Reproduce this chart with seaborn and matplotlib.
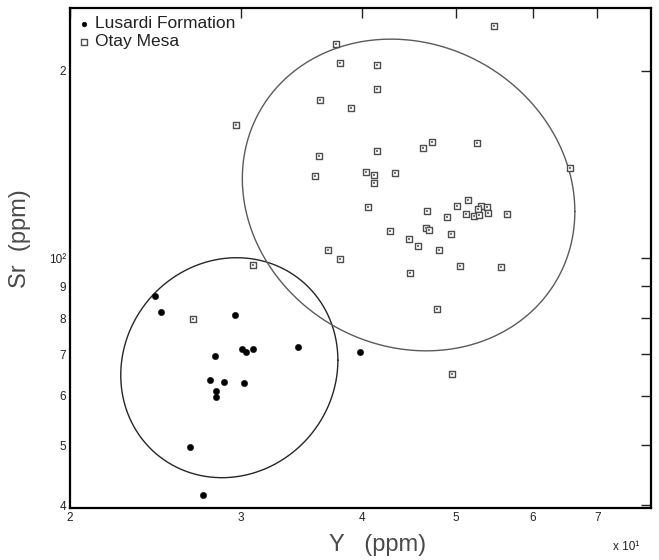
import numpy as np
import pandas as pd
import matplotlib
matplotlib.use("Agg")
import matplotlib.pyplot as plt
import seaborn as sns
from matplotlib.ticker import FixedLocator, FixedFormatter, NullLocator

# Lusardi Formation samples: yttrium vs strontium (ppm)
lusardi_y = [24.5, 24.8, 29.6, 30.1, 30.4, 30.9, 34.4, 28.2, 27.9, 28.8,
             30.2, 28.3, 28.3, 26.6, 27.4, 39.8]
lusardi_sr = [86.9, 82.0, 81.1, 71.5, 70.6, 71.5, 71.9, 69.5, 63.7, 63.2,
              63.0, 61.0, 59.8, 49.7, 41.5, 70.5]

# Otay Mesa samples: yttrium vs strontium (ppm)
otay_y = [54.7, 37.6, 38.0, 41.5, 41.5, 36.2, 39.0, 36.1, 35.8, 41.5,
          46.3, 47.3, 52.6, 65.6, 40.4, 41.2, 43.3, 41.2, 40.6, 46.7,
          50.2, 51.5, 53.1, 53.8, 52.7, 51.2, 52.2, 52.8, 54.0, 56.5,
          49.0, 42.8, 46.6, 46.9, 44.7, 45.7, 49.4, 48.0, 36.9, 38.0,
          50.5, 55.7, 44.9, 47.8, 49.6, 29.7, 30.9, 26.8]
otay_sr = [236.6, 220.9, 206.1, 204.6, 187.4, 179.7, 174.3, 145.7, 135.4, 148.8,
           150.1, 153.6, 153.0, 139.7, 137.5, 136.1, 136.8, 131.9, 120.8, 119.0,
           121.2, 124.0, 121.4, 120.9, 119.9, 117.5, 116.8, 117.2, 118.1, 117.8,
           116.3, 110.7, 111.9, 111.0, 107.4, 104.5, 109.2, 102.9, 103.0, 99.7,
           97.2, 96.8, 94.6, 82.8, 65.1, 163.4, 97.5, 79.7]

# Grouping ellipses: centre (ppm), half-axes in log10 units, log-log correlation
group_names = ["Lusardi Formation", "Otay Mesa"]
ellipse_center_y = [29.2, 44.7]
ellipse_center_sr = [66.6, 126.3]
ellipse_half_logy = [0.112, 0.1715]
ellipse_half_logsr = [0.177, 0.2508]
ellipse_rho = [0.068, -0.106]

# Axis ticks and their labels
x_ticks = [20, 30, 40, 50, 60, 70]
x_tick_labels = ["2", "3", "4", "5", "6", "7"]
y_ticks = [40, 50, 60, 70, 80, 90, 100, 200]
y_tick_labels = ["4", "5", "6", "7", "8", "9", "10\u00b2", "2"]

sns.set_style("white")
plt.rcParams["font.family"] = ["Liberation Sans", "DejaVu Sans"]

fig = plt.figure(figsize=(6.59, 5.6), dpi=100)
ax = fig.add_axes([70 / 659, 1 - 508 / 560, 581 / 659, 500.5 / 560])
ax.set_xscale("log")
ax.set_yscale("log")

# ellipses drawn as closed curves in log-log space
t = np.linspace(0, 2 * np.pi, 400)
line_colors = ["#262626", "#5a5a5a"]
for i, name in enumerate(group_names):
    rho = ellipse_rho[i]
    lx = np.log10(ellipse_center_y[i]) + ellipse_half_logy[i] * np.cos(t)
    ly = np.log10(ellipse_center_sr[i]) + ellipse_half_logsr[i] * (
        rho * np.cos(t) + np.sqrt(1 - rho ** 2) * np.sin(t))
    curve = pd.DataFrame({"x": 10 ** lx, "y": 10 ** ly})
    sns.lineplot(data=curve, x="x", y="y", sort=False, estimator=None,
                 color=line_colors[i], linewidth=1.0, ax=ax, legend=False)

lus = pd.DataFrame({"Y": lusardi_y, "Sr": lusardi_sr})
ota = pd.DataFrame({"Y": otay_y, "Sr": otay_sr})

sns.scatterplot(data=lus, x="Y", y="Sr", marker="o", s=21, color="black",
                edgecolor="black", linewidth=0.3, label=group_names[0], ax=ax,
                zorder=4)
sns.scatterplot(data=ota, x="Y", y="Sr", marker="s", s=24, facecolor="white",
                edgecolor="#4d4d4d", linewidth=1.0, label=group_names[1], ax=ax,
                zorder=4)
# small centre dot of each open square
ax.scatter(ota["Y"], ota["Sr"], marker="s", s=0.8, color="#777777",
           linewidths=0, zorder=5)

ax.set_xlim(20, 79.5)
ax.set_ylim(39.6, 253)

ax.xaxis.set_major_locator(FixedLocator(x_ticks))
ax.xaxis.set_major_formatter(FixedFormatter(x_tick_labels))
ax.xaxis.set_minor_locator(NullLocator())
ax.yaxis.set_major_locator(FixedLocator(y_ticks))
ax.yaxis.set_major_formatter(FixedFormatter(y_tick_labels))
ax.yaxis.set_minor_locator(NullLocator())

ax.tick_params(axis="both", which="major", direction="in", length=7, width=1,
               top=True, right=True, labelsize=8.5, colors="#222222", pad=3)

for sp in ax.spines.values():
    sp.set_visible(True)
    sp.set_linewidth(1.6)
    sp.set_color("black")

ax.set_xlabel("Y   (ppm)", fontsize=17, color="#4a4a4a", ha="center", va="center")
ax.xaxis.set_label_coords(0.529, -0.074)
ax.set_ylabel("Sr  (ppm)", fontsize=17, color="#4a4a4a", ha="center", va="center")
ax.yaxis.set_label_coords(-0.086, 0.538)

ax.text(0.958, -0.078, "x 10\u00b9", transform=ax.transAxes, fontsize=8.5,
        color="#222222", ha="center", va="center")

leg = ax.legend(loc="upper left", frameon=False, fontsize=12.5,
                handlelength=0.6, handletextpad=0.35, labelspacing=0.15,
                borderaxespad=0.3, borderpad=0.2, markerscale=0.75)
for txt in leg.get_texts():
    txt.set_color("#222222")

fig.savefig("out.png", dpi=100)
